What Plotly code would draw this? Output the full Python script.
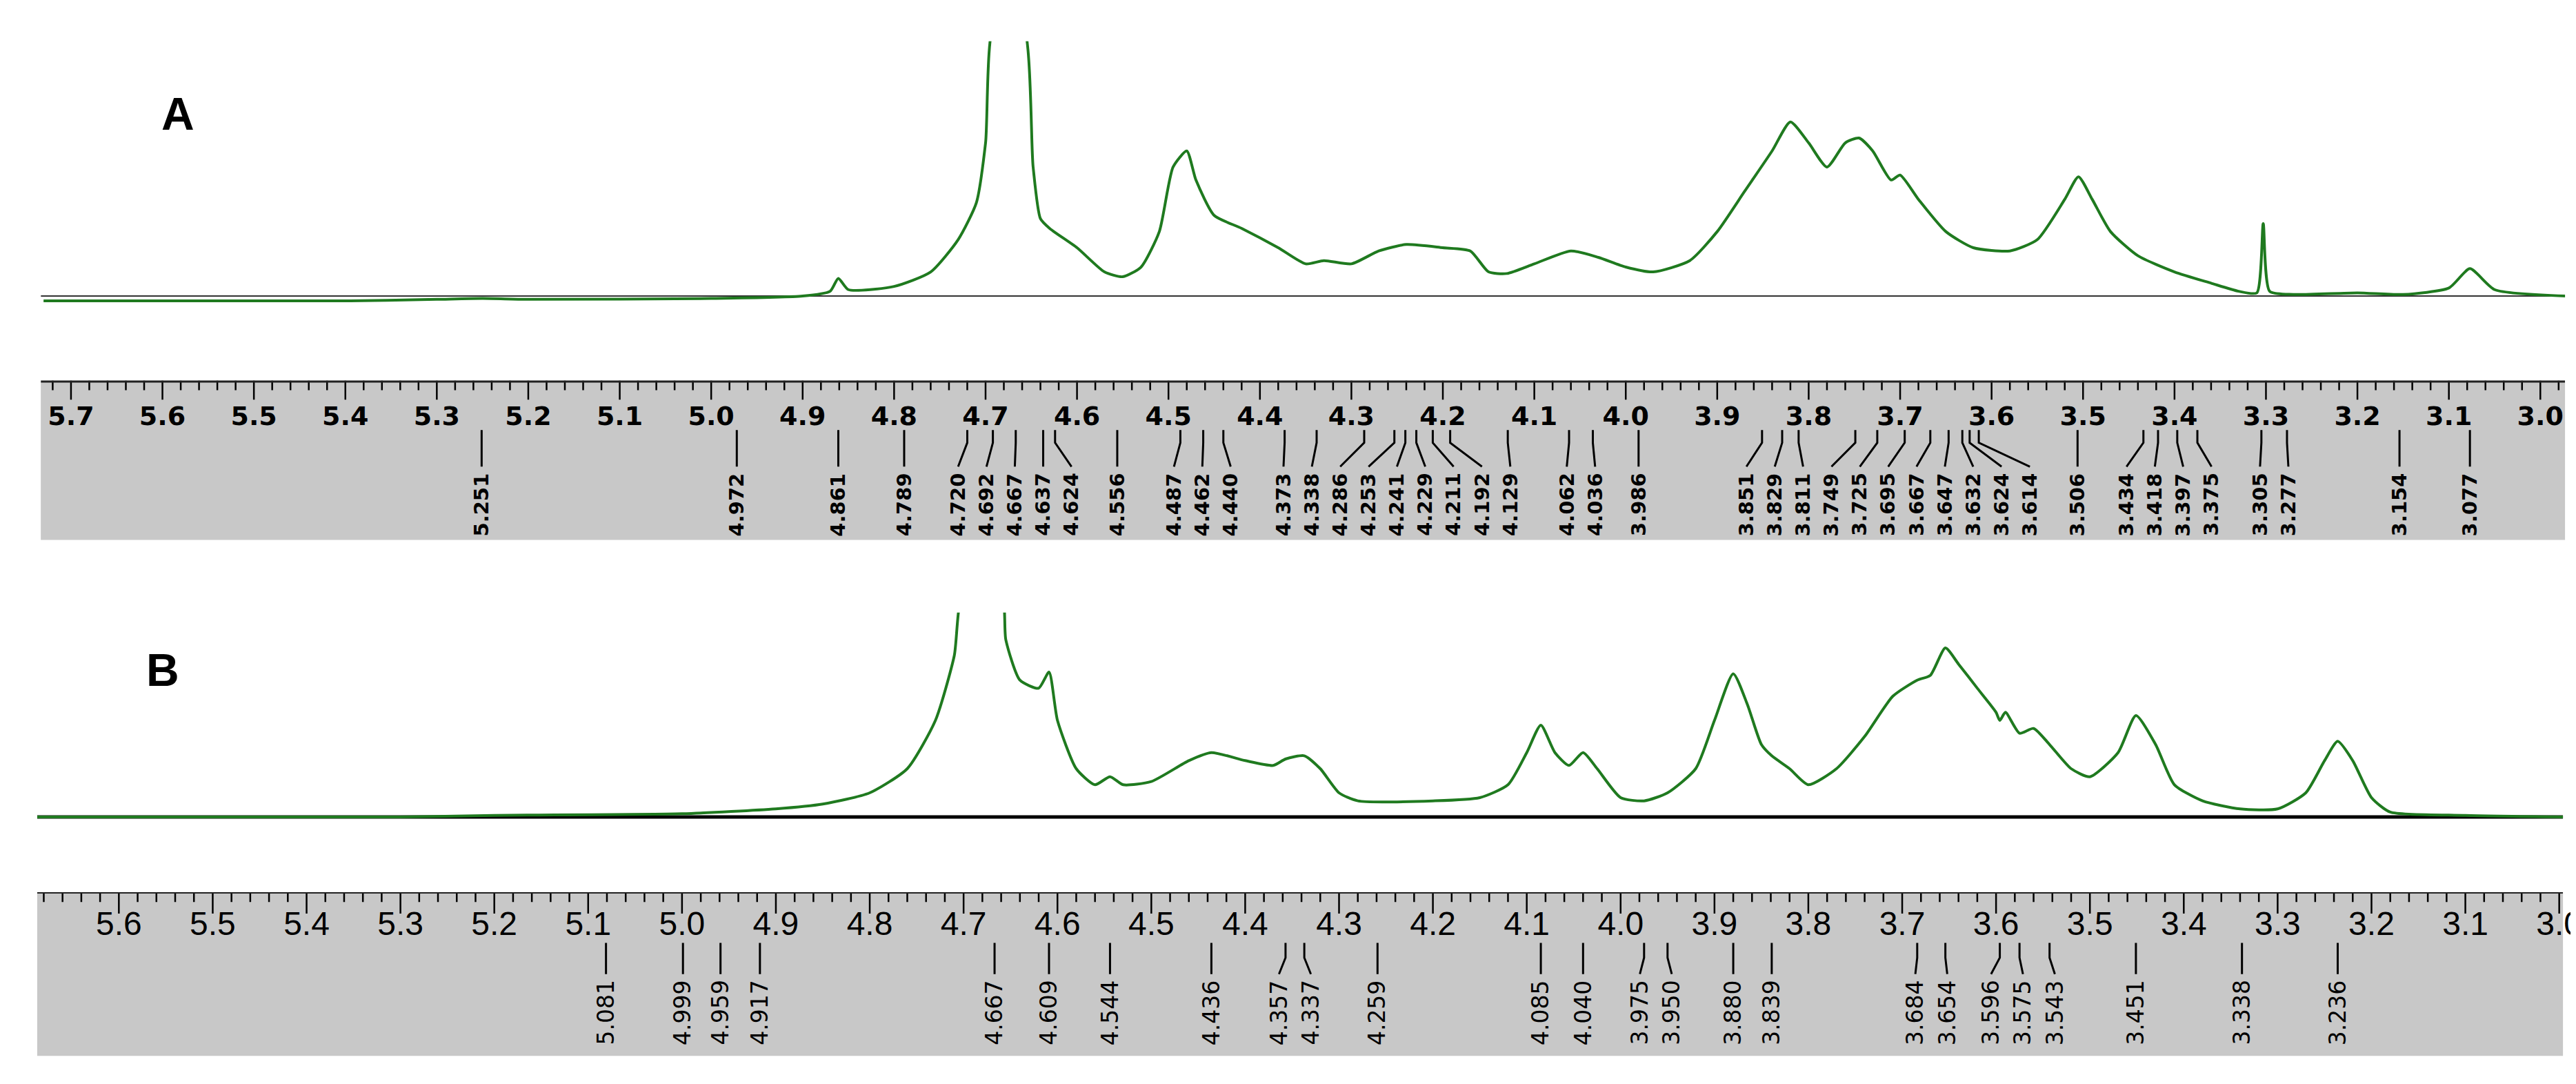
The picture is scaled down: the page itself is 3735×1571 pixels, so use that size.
import numpy as np
import plotly.graph_objects as go

# spectrum A: (ppm, intensity)
ppm_a = [5.73, 5.40, 5.30, 5.25, 5.20, 5.00, 4.90, 4.87, 4.861, 4.85, 4.80, 4.76, 4.73, 4.71, 4.70,
         4.69, 4.66, 4.648, 4.64, 4.63, 4.60, 4.57, 4.55, 4.53, 4.51, 4.495, 4.48, 4.47, 4.45, 4.42,
         4.38, 4.35, 4.33, 4.30, 4.27, 4.24, 4.20, 4.17, 4.15, 4.13, 4.10, 4.06, 4.03, 4.00, 3.97,
         3.93, 3.90, 3.87, 3.84, 3.82, 3.80, 3.78, 3.76, 3.745, 3.73, 3.71, 3.70, 3.68, 3.65, 3.62,
         3.58, 3.55, 3.52, 3.505, 3.49, 3.47, 3.44, 3.40, 3.36, 3.33, 3.31, 3.303, 3.296, 3.27,
         3.20, 3.15, 3.10, 3.077, 3.05, 2.97]
int_a = [-3, -3, -2, -1.5, -2, -1.5, 0, 3, 11, 4, 6, 15, 35, 58, 95,
         170, 170, 80, 48, 42, 30, 15, 12, 18, 40, 80, 90, 72, 50, 42,
         30, 20, 22, 20, 28, 32, 30, 28, 15, 14, 20, 28, 24, 18, 15,
         22, 40, 65, 90, 108, 95, 80, 95, 98, 90, 72, 75, 60, 40, 30,
         28, 35, 60, 74, 60, 40, 25, 15, 8, 3, 2, 45, 3, 1,
         2, 1, 5, 17, 4, 0]

# spectrum B
ppm_b = [5.69, 5.30, 5.20, 5.00, 4.90, 4.85, 4.80, 4.76, 4.73, 4.71, 4.70, 4.66, 4.655, 4.64,
         4.62, 4.609, 4.60, 4.58, 4.56, 4.544, 4.53, 4.50, 4.46, 4.436, 4.40, 4.37, 4.357, 4.337,
         4.32, 4.30, 4.28, 4.20, 4.15, 4.12, 4.10, 4.085, 4.07, 4.055, 4.04, 4.025, 4.00, 3.975,
         3.95, 3.92, 3.90, 3.88, 3.865, 3.85, 3.839, 3.82, 3.80, 3.77, 3.74, 3.71, 3.684, 3.67,
         3.654, 3.64, 3.62, 3.60, 3.596, 3.59, 3.575, 3.56, 3.543, 3.52, 3.50, 3.47, 3.451, 3.43,
         3.41, 3.38, 3.34, 3.30, 3.27, 3.25, 3.236, 3.22, 3.20, 3.18, 3.10, 2.99]
int_b = [0, 0, 1, 2, 5, 8, 15, 30, 60, 100, 140, 140, 110, 85,
         80, 90, 60, 30, 20, 25, 20, 22, 35, 40, 35, 32, 36, 38,
         30, 15, 10, 10, 12, 20, 40, 57, 40, 32, 40, 30, 12, 10,
         15, 30, 60, 89, 70, 45, 38, 30, 20, 30, 50, 75, 85, 88,
         105, 95, 80, 65, 60, 65, 52, 55, 45, 30, 25, 40, 63, 45,
         20, 10, 5, 5, 15, 35, 47, 35, 12, 3, 1, 0]

peaks_a = [5.251, 4.972, 4.861, 4.789, 4.720, 4.692, 4.667, 4.637, 4.624, 4.556, 4.487, 4.462,
           4.440, 4.373, 4.338, 4.286, 4.253, 4.241, 4.229, 4.211, 4.192, 4.129, 4.062, 4.036,
           3.986, 3.851, 3.829, 3.811, 3.749, 3.725, 3.695, 3.667, 3.647, 3.632, 3.624, 3.614,
           3.506, 3.434, 3.418, 3.397, 3.375, 3.305, 3.277, 3.154, 3.077]
peaks_b = [5.081, 4.999, 4.959, 4.917, 4.667, 4.609, 4.544, 4.436, 4.357, 4.337, 4.259, 4.085,
           4.040, 3.975, 3.950, 3.880, 3.839, 3.684, 3.654, 3.596, 3.575, 3.543, 3.451, 3.338,
           3.236]

GREEN = '#1f7a1f'
GRAY = '#c8c8c8'


def spread(vals, gap):
    # push label positions apart so the rotated labels don't overlap
    pos = sorted(vals, reverse=True)
    for _ in range(300):
        moved = False
        for i in range(len(pos) - 1):
            d = pos[i] - pos[i + 1]
            if d < gap - 1e-9:
                s = (gap - d) / 2
                pos[i] += s
                pos[i + 1] -= s
                moved = True
        if not moved:
            break
    order = sorted(range(len(vals)), key=lambda k: -vals[k])
    out = [0] * len(vals)
    for rank, k in enumerate(order):
        out[k] = pos[rank]
    return out


fig = go.Figure()

panels = [
    dict(sx='x', sy='y', rx='x2', ry='y2', xdom=[0.0137, 0.9936], xr=[5.733, 2.973],
         sdom=[0.726, 0.967], rdom=[0.507, 0.654], yr=[-4, 158], ppm=ppm_a, inten=int_a,
         peaks=peaks_a, gap=0.031, bold=True,
         font=dict(family='DejaVu Sans', size=38, color='black'), lfont=29,
         lab=dict(tick_end=0.88, tick_lab=0.76, l0=0.69, l1=0.61, l2=0.46, t=0.43),
         letter='A', lx=0.06, ly=0.925, topw=6),
    dict(sx='x3', sy='y3', rx='x4', ry='y4', xdom=[0.0123, 0.9928], xr=[5.687, 2.996],
         sdom=[0.247, 0.440], rdom=[0.031, 0.182], yr=[-3, 127], ppm=ppm_b, inten=int_b,
         peaks=peaks_b, gap=0.034, bold=False,
         font=dict(family='Liberation Sans', size=48, color='black'), lfont=33,
         lab=dict(tick_end=0.87, tick_lab=0.79, l0=0.69, l1=0.60, l2=0.50, t=0.47),
         letter='B', lx=0.054, ly=0.387, topw=4),
]

for p in panels:
    # baseline and spectrum
    fig.add_trace(go.Scatter(x=[p['xr'][0], p['xr'][1]], y=[0, 0], mode='lines',
                             line=dict(color='#333' if p['letter'] == 'A' else 'black',
                                       width=2 if p['letter'] == 'A' else 5),
                             xaxis=p['sx'], yaxis=p['sy'], hoverinfo='skip'))
    fig.add_trace(go.Scatter(x=p['ppm'], y=p['inten'], mode='lines',
                             line=dict(color=GREEN, width=4, shape='spline', smoothing=0.6),
                             xaxis=p['sx'], yaxis=p['sy']))

    # ruler ticks
    lb = p['lab']
    minor = np.round(np.arange(2.96, 5.76, 0.02), 2)
    tx, ty = [], []
    for v in minor:
        if v > p['xr'][0] or v < p['xr'][1]:
            continue
        major = abs(v * 10 - round(v * 10)) < 1e-6
        tx += [v, v, None]
        ty += [1, lb['tick_end'] if major else 0.94, None]
    fig.add_trace(go.Scatter(x=tx, y=ty, mode='lines', line=dict(color='black', width=2.5),
                             xaxis=p['rx'], yaxis=p['ry'], hoverinfo='skip'))
    fig.add_trace(go.Scatter(x=[p['xr'][0], p['xr'][1]], y=[1, 1], mode='lines',
                             line=dict(color='#222', width=p['topw']),
                             xaxis=p['rx'], yaxis=p['ry'], hoverinfo='skip'))
    majors = [round(v, 1) for v in np.arange(3.0, 5.8, 0.1) if p['xr'][1] - 0.02 <= v <= p['xr'][0] + 0.02]
    fmt = '<b>{:.1f}</b>' if p['bold'] else '{:.1f}'
    fig.add_trace(go.Scatter(x=majors, y=[lb['tick_lab']] * len(majors), mode='text',
                             text=[fmt.format(v) for v in majors], textfont=p['font'],
                             cliponaxis=False, xaxis=p['rx'], yaxis=p['ry'], hoverinfo='skip'))

    # peak pick lines and labels
    lpos = spread(p['peaks'], p['gap'])
    px, py = [], []
    for v, lp in zip(p['peaks'], lpos):
        px += [v, v, lp, None]
        py += [lb['l0'], lb['l1'], lb['l2'], None]
        t = f'{v:.3f}'
        fig.add_annotation(x=lp, y=lb['t'], xref=p['rx'], yref=p['ry'],
                           text=f'<b>{t}</b>' if p['bold'] else t,
                           textangle=-90, showarrow=False, yanchor='top', xanchor='center',
                           font=dict(family='DejaVu Sans', size=p['lfont'], color='black'))
    fig.add_trace(go.Scatter(x=px, y=py, mode='lines', line=dict(color='black', width=3),
                             xaxis=p['rx'], yaxis=p['ry'], hoverinfo='skip'))

    fig.add_shape(type='rect', xref=p['rx'] + ' domain', yref=p['ry'] + ' domain',
                  x0=0, x1=1, y0=0, y1=1, fillcolor=GRAY, line=dict(width=0), layer='below')
    fig.add_annotation(x=p['lx'], y=p['ly'], xref='paper', yref='paper', text=f"<b>{p['letter']}</b>",
                       showarrow=False, font=dict(family='Liberation Sans', size=66, color='black'))

ax = dict(showgrid=False, zeroline=False, showticklabels=False, ticks='', showline=False)
fig.update_layout(
    width=3735, height=1571, showlegend=False,
    margin=dict(l=0, r=0, t=0, b=0),
    paper_bgcolor='white', plot_bgcolor='rgba(0,0,0,0)',
    xaxis=dict(ax, domain=panels[0]['xdom'], range=panels[0]['xr']),
    yaxis=dict(ax, domain=panels[0]['sdom'], range=panels[0]['yr']),
    xaxis2=dict(ax, domain=panels[0]['xdom'], range=panels[0]['xr'], anchor='y2'),
    yaxis2=dict(ax, domain=panels[0]['rdom'], range=[0, 1], anchor='x2'),
    xaxis3=dict(ax, domain=panels[1]['xdom'], range=panels[1]['xr'], anchor='y3'),
    yaxis3=dict(ax, domain=panels[1]['sdom'], range=panels[1]['yr'], anchor='x3'),
    xaxis4=dict(ax, domain=panels[1]['xdom'], range=panels[1]['xr'], anchor='y4'),
    yaxis4=dict(ax, domain=panels[1]['rdom'], range=[0, 1], anchor='x4'),
)

fig.write_html("out.html")
